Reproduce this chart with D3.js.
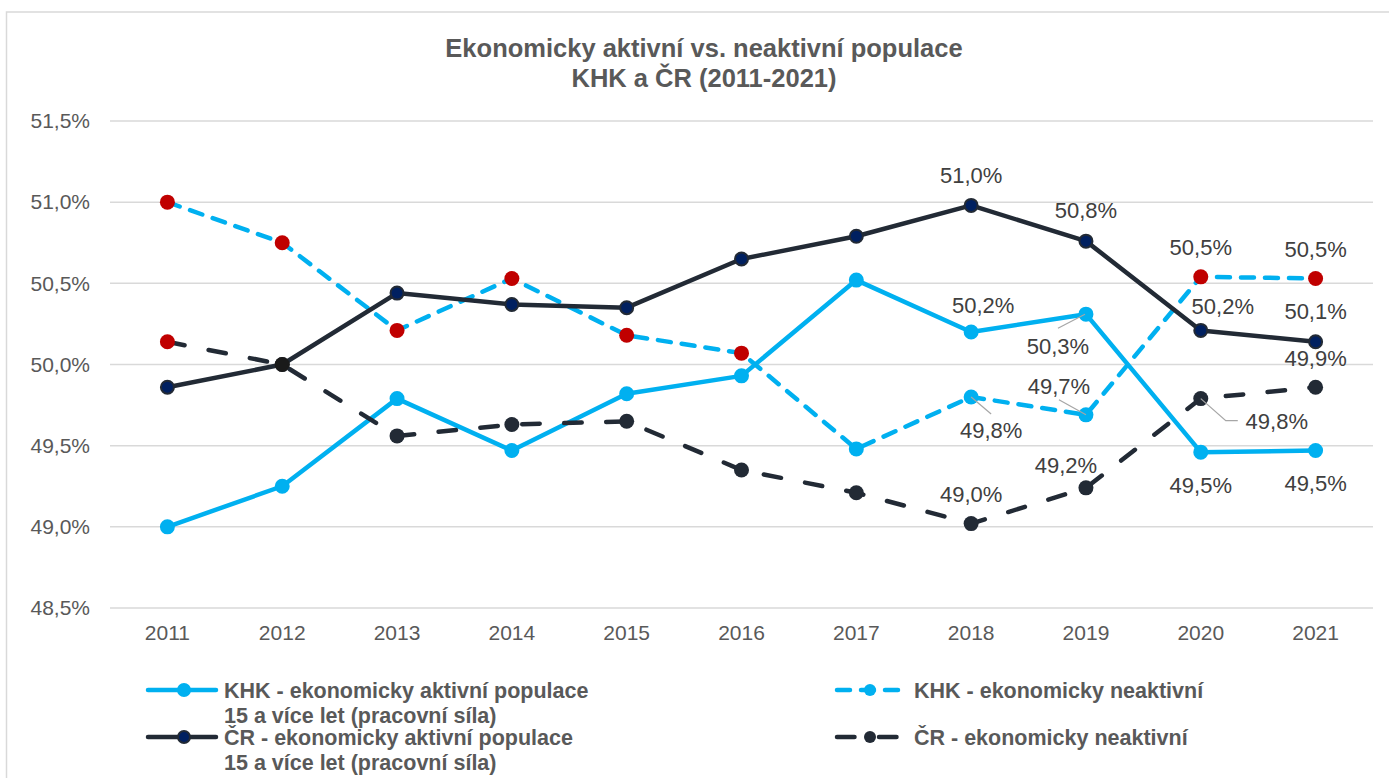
<!DOCTYPE html>
<html>
<head>
<meta charset="utf-8">
<script src="https://cdnjs.cloudflare.com/ajax/libs/d3/7.8.5/d3.min.js"></script>
<style>
  body { margin: 0; background: #fff; }
  text { font-family: "Liberation Sans", Arial, sans-serif; }
</style>
</head>
<body>
<div id="chart"></div>
<script>
// data
const years = [2011, 2012, 2013, 2014, 2015, 2016, 2017, 2018, 2019, 2020, 2021];
const khkActive   = [49.00, 49.25, 49.79, 49.47, 49.82, 49.93, 50.52, 50.20, 50.31, 49.46, 49.47];
const khkInactive = [51.00, 50.75, 50.21, 50.53, 50.18, 50.07, 49.48, 49.80, 49.69, 50.54, 50.53];
const crActive    = [49.86, 50.00, 50.44, 50.37, 50.35, 50.65, 50.79, 50.98, 50.76, 50.21, 50.14];
const crInactive  = [50.14, 50.00, 49.56, 49.63, 49.65, 49.35, 49.21, 49.02, 49.24, 49.79, 49.86];
const yTicks = [48.5, 49.0, 49.5, 50.0, 50.5, 51.0, 51.5];

const title1 = "Ekonomicky aktivní vs. neaktivní populace";
const title2 = "KHK a ČR (2011-2021)";

const W = 1389, H = 778;
const plotLeft = 110, plotRight = 1373;

const svg = d3.select("#chart").append("svg")
    .attr("width", W)
    .attr("height", H);

// chart frame (runs off the right and bottom of the picture)
svg.append("rect")
    .attr("x", 6.5).attr("y", 12)
    .attr("width", 1500).attr("height", 900)
    .attr("fill", "#fff")
    .attr("stroke", "#d9d9d9")
    .attr("stroke-width", 1.5);

const x = d3.scaleBand()
    .domain(years)
    .range([plotLeft, plotRight]);
const cx = yr => x(yr) + x.bandwidth() / 2;

const y = d3.scaleLinear()
    .domain([48.5, 51.5])
    .range([608, 121]);

// gridlines
svg.append("g")
  .selectAll("line")
  .data(yTicks)
  .enter().append("line")
    .attr("x1", plotLeft)
    .attr("x2", plotRight)
    .attr("y1", d => y(d))
    .attr("y2", d => y(d))
    .attr("stroke", "#d9d9d9")
    .attr("stroke-width", 1.5);

const comma = v => d3.format(".1f")(v).replace(".", ",") + "%";

// y axis labels
const yAxis = svg.append("g")
    .attr("transform", "translate(90,0)")
    .call(d3.axisLeft(y).tickValues(yTicks).tickSize(0).tickPadding(0).tickFormat(comma));
yAxis.select(".domain").remove();
yAxis.selectAll("text")
    .attr("fill", "#595959")
    .style("font-size", "21px")
    .style("font-family", "'Liberation Sans', Arial, sans-serif");

// x axis labels
const xAxis = svg.append("g")
    .attr("transform", "translate(0,625)")
    .call(d3.axisBottom(x).tickSize(0).tickPadding(0).tickFormat(d => d));
xAxis.select(".domain").remove();
xAxis.selectAll("text")
    .attr("fill", "#595959")
    .style("font-size", "21px")
    .style("font-family", "'Liberation Sans', Arial, sans-serif");

// title
[title1, title2].forEach((t, k) => {
  svg.append("text")
      .attr("x", 704).attr("y", 57 + k * 30)
      .attr("text-anchor", "middle")
      .attr("fill", "#595959")
      .style("font-size", "25.5px")
      .style("font-weight", "bold")
      .text(t);
});

const RED = "#c00000", BLUE = "#00b0f0", DARK = "#222a35", NAVY = "#002060";

const series = [
  { name: "khkActive", values: khkActive, stroke: BLUE, dash: null,
    fills: years.map(() => BLUE), mstroke: BLUE },
  { name: "khkInactive", values: khkInactive, stroke: BLUE, dash: "13,11",
    fills: [RED, RED, RED, RED, RED, RED, BLUE, BLUE, BLUE, RED, RED], mstroke: null },
  { name: "crActive", values: crActive, stroke: DARK, dash: null,
    fills: years.map(() => NAVY), mstroke: DARK },
  { name: "crInactive", values: crInactive, stroke: DARK, dash: "17.5,24.5",
    fills: [RED, "#1a1a1a", DARK, DARK, DARK, DARK, DARK, DARK, DARK, DARK, DARK], mstroke: null }
];

const line = d3.line()
    .x((d, i) => cx(years[i]))
    .y(d => y(d));

series.forEach(s => {
  const g = svg.append("g").attr("class", s.name);
  g.append("path")
      .datum(s.values)
      .attr("d", line)
      .attr("fill", "none")
      .attr("stroke", s.stroke)
      .attr("stroke-width", 4.5)
      .attr("stroke-linejoin", "round")
      .attr("stroke-linecap", s.dash ? "round" : "butt")
      .attr("stroke-dasharray", s.dash);
  g.selectAll("circle")
    .data(s.values)
    .enter().append("circle")
      .attr("cx", (d, i) => cx(years[i]))
      .attr("cy", d => y(d))
      .attr("r", s.mstroke ? 6.5 : 7.5)
      .attr("fill", (d, i) => s.fills[i])
      .attr("stroke", s.mstroke ? s.mstroke : "none")
      .attr("stroke-width", 2);
});

// data labels (2018 onwards): offsets from the point, with optional leader lines
const labelSpots = [
  { s: 2, i: 7, dx: 0, dy: -30 },
  { s: 2, i: 8, dx: 0, dy: -31 },
  { s: 2, i: 9, dx: 22, dy: -24 },
  { s: 2, i: 10, dx: 0, dy: -30 },
  { s: 1, i: 9, dx: 0, dy: -30 },
  { s: 1, i: 10, dx: 0, dy: -29 },
  { s: 0, i: 7, dx: 12, dy: -27 },
  { s: 0, i: 8, dx: -28, dy: 32, lead: [[-28, 14], [-1, 0]] },
  { s: 0, i: 9, dx: 0, dy: 33 },
  { s: 0, i: 10, dx: 0, dy: 33 },
  { s: 1, i: 7, dx: 20, dy: 33, lead: [[0, 0], [20, 17]] },
  { s: 1, i: 8, dx: -27, dy: -29, lead: [[-27, -15], [0, 0]] },
  { s: 3, i: 7, dx: 0, dy: -29 },
  { s: 3, i: 8, dx: -20, dy: -23 },
  { s: 3, i: 9, dx: 76, dy: 23, lead: [[0, 0], [25, 22], [37, 22]] },
  { s: 3, i: 10, dx: 0, dy: -29 }
];

labelSpots.forEach(l => {
  const v = series[l.s].values[l.i];
  const px = cx(years[l.i]), py = y(v);
  if (l.lead) {
    svg.append("path")
        .attr("d", d3.line()(l.lead.map(p => [px + p[0], py + p[1]])))
        .attr("fill", "none")
        .attr("stroke", "#a6a6a6")
        .attr("stroke-width", 1.2);
  }
  svg.append("text")
      .attr("x", px + l.dx)
      .attr("y", py + l.dy)
      .attr("dy", "0.35em")
      .attr("text-anchor", "middle")
      .attr("fill", "#404040")
      .style("font-size", "22px")
      .text(comma(v));
});

// legend
const legendItems = [
  { s: 0, x0: 146, seg: 72, tx: 224, yl: 690, lines: ["KHK - ekonomicky aktivní populace", "15 a více let (pracovní síla)"] },
  { s: 1, x0: 835, seg: 66, tx: 914, yl: 690, lines: ["KHK - ekonomicky neaktivní"] },
  { s: 2, x0: 146, seg: 72, tx: 224, yl: 737, lines: ["ČR - ekonomicky aktivní populace", "15 a více let (pracovní síla)"] },
  { s: 3, x0: 835, seg: 66, tx: 914, yl: 737, lines: ["ČR - ekonomicky neaktivní"] }
];

legendItems.forEach(it => {
  const s = series[it.s];
  const g = svg.append("g");
  g.append("line")
      .attr("x1", it.x0 + 2).attr("x2", it.x0 + it.seg - 2)
      .attr("y1", it.yl).attr("y2", it.yl)
      .attr("stroke", s.stroke)
      .attr("stroke-width", 4.5)
      .attr("stroke-linecap", "round")
      .attr("stroke-dasharray", s.dash);
  g.append("circle")
      .attr("cx", it.x0 + it.seg / 2 + 2).attr("cy", it.yl)
      .attr("r", 6)
      .attr("fill", it.s === 2 ? NAVY : s.stroke)
      .attr("stroke", s.mstroke ? s.mstroke : "none")
      .attr("stroke-width", 2);
  it.lines.forEach((t, k) => {
    g.append("text")
        .attr("x", it.tx)
        .attr("y", it.yl + 8 + k * 25)
        .attr("fill", "#595959")
        .style("font-size", "21.5px")
        .style("font-weight", "bold")
        .text(t);
  });
});
</script>
</body>
</html>
